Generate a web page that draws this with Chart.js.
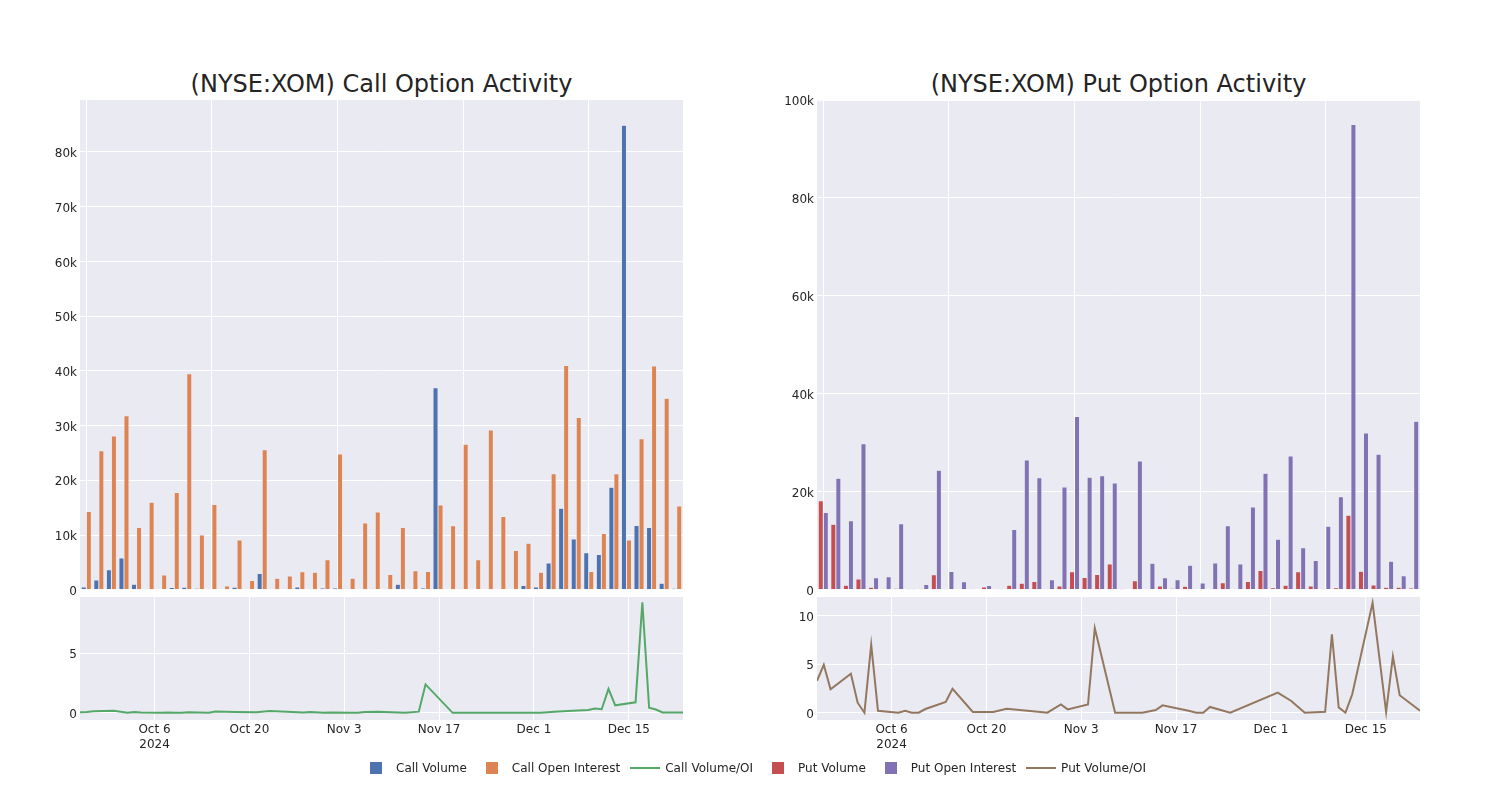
<!DOCTYPE html>
<html><head><meta charset="utf-8">
<script src="https://cdn.jsdelivr.net/npm/chart.js@4.4.1/dist/chart.umd.min.js"></script>
<style>
body{margin:0;background:#fff;width:1500px;height:800px;position:relative;overflow:hidden;font-family:"DejaVu Sans",sans-serif;}
canvas{position:absolute;}
.title{position:absolute;top:66px;width:603px;text-align:center;font-size:24px;color:rgb(36,36,36);line-height:36px;white-space:nowrap;}
#legend{position:absolute;left:356px;top:758px;display:flex;font-size:12px;color:rgb(36,36,36);}
.item{position:relative;padding-left:40px;margin-right:5px;height:20px;line-height:20px;white-space:nowrap;}
.sq{position:absolute;left:14px;top:4px;width:12px;height:12px;}
.ln{position:absolute;left:5px;top:9px;width:30px;height:2px;}
</style></head>
<body>
<div class="title" style="left:80px">(NYSE:XOM) Call Option Activity</div>
<div class="title" style="left:817px">(NYSE:XOM) Put Option Activity</div>
<canvas id="callBar" width="700" height="515" style="left:0px;top:85px"></canvas>
<canvas id="callLine" width="700" height="175" style="left:0px;top:585px"></canvas>
<canvas id="putBar" width="700" height="515" style="left:737px;top:85px"></canvas>
<canvas id="putLine" width="700" height="175" style="left:737px;top:585px"></canvas>
<div id="legend"></div>
<script>
// ---------- data ----------
const dates = ['2024-09-25','2024-09-26','2024-09-27','2024-09-30','2024-10-01','2024-10-02','2024-10-03','2024-10-04',
  '2024-10-07','2024-10-08','2024-10-09','2024-10-10','2024-10-11','2024-10-14','2024-10-15','2024-10-18',
  '2024-10-21','2024-10-23','2024-10-28','2024-10-29','2024-10-31','2024-11-01','2024-11-04','2024-11-05',
  '2024-11-06','2024-11-08','2024-11-12','2024-11-14','2024-11-15','2024-11-19','2024-11-20','2024-11-21',
  '2024-11-22','2024-11-25','2024-12-02','2024-12-04','2024-12-06','2024-12-09','2024-12-10','2024-12-11',
  '2024-12-12','2024-12-13','2024-12-16','2024-12-17','2024-12-18','2024-12-19','2024-12-20','2024-12-23'];

const callVolume = [500,1800,3650,5800,1000,200,150,400,450,300,50,0,450,0,3000,150,100,500,50,350,350,50,150,200,
  200,1000,50,350,36900,0,200,0,150,0,100,800,500,4900,14900,9300,6750,6450,18750,84900,11750,11400,1200,300];
const callOpenInterest = [14300,25400,28100,31800,11400,16000,2700,17800,39500,10000,15600,700,9100,1700,25600,2100,
  2500,3300,3200,5500,24800,2100,12200,14200,2800,11400,3500,3350,15500,11700,26600,5500,29200,13400,7200,8500,
  3200,21200,41000,31500,3350,10300,21200,9100,27600,40900,35000,15300];
const callVolumeOI = [0.04,0.07,0.13,0.18,0.09,0.01,0.06,0.02,0.01,0.03,0.0,0.0,0.05,0.0,0.12,0.07,0.04,0.15,0.02,0.06,
  0.01,0.02,0.01,0.01,0.07,0.09,0.01,0.1,2.38,0.0,0.01,0.0,0.01,0.0,0.01,0.09,0.16,0.23,0.36,0.3,2.0,0.63,0.88,9.25,
  0.43,0.28,0.03,0.02];

const putVolume = [18200,13400,950,2200,500,50,300,20,20,3050,50,0,50,550,50,950,1350,1700,250,800,3700,2500,3100,5250,
  20,1850,50,800,300,700,0,150,1450,150,1700,3950,400,950,3700,800,20,400,15200,3800,1000,500,500,350];
const putOpenInterest = [15800,22800,14100,29800,2450,2650,13500,20,1100,24400,3750,1650,150,900,20,12300,26500,22900,
  2050,21000,35400,23000,23300,21800,0,26300,5400,2450,2050,5000,1400,5450,13100,5250,16900,23800,10300,27300,8600,
  6000,13000,19000,95000,32000,27700,5850,2850,34400];
const putVolumeOI = [3.28,4.93,2.41,4.0,1.03,0.0,7.0,0.2,0.0,0.2,0.0,0.0,0.38,1.1,2.45,0.07,0.07,0.41,0.07,0.0,0.86,0.34,
  0.86,8.7,5.8,0.0,0.0,0.28,0.76,0.17,0.0,0.0,0.59,0.0,2.07,1.21,0.0,0.1,8.07,0.55,0.0,1.9,11.3,5.7,0.07,5.8,1.8,0.21];

const lineTickDates = ['2024-10-06','2024-10-20','2024-11-03','2024-11-17','2024-12-01','2024-12-15'];
const lineTickLabels = ['Oct 6','Oct 20','Nov 3','Nov 17','Dec 1','Dec 15'];
const yearLabel = '2024';
const callBarTicks = [0,10000,20000,30000,40000,50000,60000,70000,80000];
const putBarTicks = [0,20000,40000,60000,80000,100000];
const callLineTicks = [0,5];
const putLineTicks = [0,5,10];

const colors = {
  callVol:'rgb(76,114,176)', callOI:'rgb(221,132,82)', callRatio:'rgb(85,168,104)',
  putVol:'rgb(196,78,82)', putOI:'rgb(129,114,179)', putRatio:'rgb(147,120,96)'
};

// ---------- helpers ----------
Chart.defaults.font.family = '"DejaVu Sans", sans-serif';
Chart.defaults.font.size = 12;
Chart.defaults.color = 'rgb(36,36,36)';
const BG = 'rgb(234,234,242)';
const dayOf = s => Math.round((Date.parse(s) - Date.parse('2024-10-06')) / 86400000);

const bgPlugin = {id:'plotbg', beforeDraw(c){
  const a = c.chartArea, ctx = c.ctx;
  ctx.save(); ctx.fillStyle = BG; ctx.fillRect(a.left, a.top, a.right - a.left, a.bottom - a.top); ctx.restore();
}};

const kFmt = v => v === 0 ? '0' : (v / 1000) + 'k';

function barChart(id, ds, yMax, yTicks){
  return new Chart(document.getElementById(id), {
    type:'bar',
    data:{labels: dates, datasets: ds},
    options:{
      responsive:false, animation:false, devicePixelRatio:1,
      layout:{padding:{top:15, right:17, bottom:10, left:0}},
      plugins:{legend:{display:false}, tooltip:{enabled:false}},
      datasets:{bar:{categoryPercentage:0.8, barPercentage:1.0, borderWidth:0.5, borderColor:BG}},
      scales:{
        x:{
          grid:{offset:false, drawTicks:false, lineWidth:1,
            color: c => (c.tick && c.tick.value % 10 === 0) ? '#ffffff' : 'rgba(0,0,0,0)'},
          ticks:{display:false, autoSkip:false},
          border:{display:false},
          afterFit: s => { s.height = 0; }
        },
        y:{
          min:0, max:yMax,
          afterBuildTicks: s => { s.ticks = yTicks.map(v => ({value:v})); },
          ticks:{padding:3, labelOffset:2, callback: kFmt},
          grid:{color:'#ffffff', drawTicks:false, lineWidth:1},
          border:{display:false},
          afterFit: s => { s.width = 80; }
        }
      }
    },
    plugins:[bgPlugin]
  });
}

function lineChart(id, ys, color, yMin, yMax, yTicks){
  const pts = dates.map((d, i) => ({x: dayOf(d), y: ys[i]}));
  return new Chart(document.getElementById(id), {
    type:'line',
    data:{datasets:[{data: pts, borderColor: color, borderWidth:2, pointRadius:0, tension:0, fill:false}]},
    options:{
      responsive:false, animation:false, devicePixelRatio:1,
      layout:{padding:{top:12, right:17, bottom:0, left:0}},
      plugins:{legend:{display:false}, tooltip:{enabled:false}},
      scales:{
        x:{
          type:'linear', min: dayOf(dates[0]), max: dayOf(dates[dates.length - 1]),
          afterBuildTicks: s => { s.ticks = lineTickDates.map(d => ({value: dayOf(d)})); },
          ticks:{padding:3, maxRotation:0, autoSkip:false,
            callback: (v, i) => i === 0 ? [lineTickLabels[0], yearLabel] : lineTickLabels[i]},
          grid:{color:'#ffffff', drawTicks:false, lineWidth:1},
          border:{display:false},
          afterFit: s => { s.height = 40; }
        },
        y:{
          min:yMin, max:yMax,
          afterBuildTicks: s => { s.ticks = yTicks.map(v => ({value:v})); },
          ticks:{padding:3, labelOffset:2, callback: v => String(v)},
          grid:{color:'#ffffff', drawTicks:false, lineWidth:1},
          border:{display:false},
          afterFit: s => { s.width = 80; }
        }
      }
    },
    plugins:[bgPlugin]
  });
}

barChart('callBar', [
  {label:'Call Volume', data: callVolume, backgroundColor: colors.callVol},
  {label:'Call Open Interest', data: callOpenInterest, backgroundColor: colors.callOI}
], 89500, callBarTicks);
lineChart('callLine', callVolumeOI, colors.callRatio, -0.6, 9.7, callLineTicks);

barChart('putBar', [
  {label:'Put Volume', data: putVolume, backgroundColor: colors.putVol},
  {label:'Put Open Interest', data: putOpenInterest, backgroundColor: colors.putOI}
], 100000, putBarTicks);
lineChart('putLine', putVolumeOI, colors.putRatio, -0.75, 11.9, putLineTicks);

// ---------- shared legend ----------
const legendItems = [
  ['Call Volume', colors.callVol, 'sq'], ['Call Open Interest', colors.callOI, 'sq'], ['Call Volume/OI', colors.callRatio, 'ln'],
  ['Put Volume', colors.putVol, 'sq'], ['Put Open Interest', colors.putOI, 'sq'], ['Put Volume/OI', colors.putRatio, 'ln']
];
const lg = document.getElementById('legend');
legendItems.forEach(([t, c, k]) => {
  const it = document.createElement('div'); it.className = 'item';
  const sym = document.createElement('span'); sym.className = k; sym.style.background = c;
  it.appendChild(sym); it.appendChild(document.createTextNode(t)); lg.appendChild(it);
});
</script>
</body></html>
